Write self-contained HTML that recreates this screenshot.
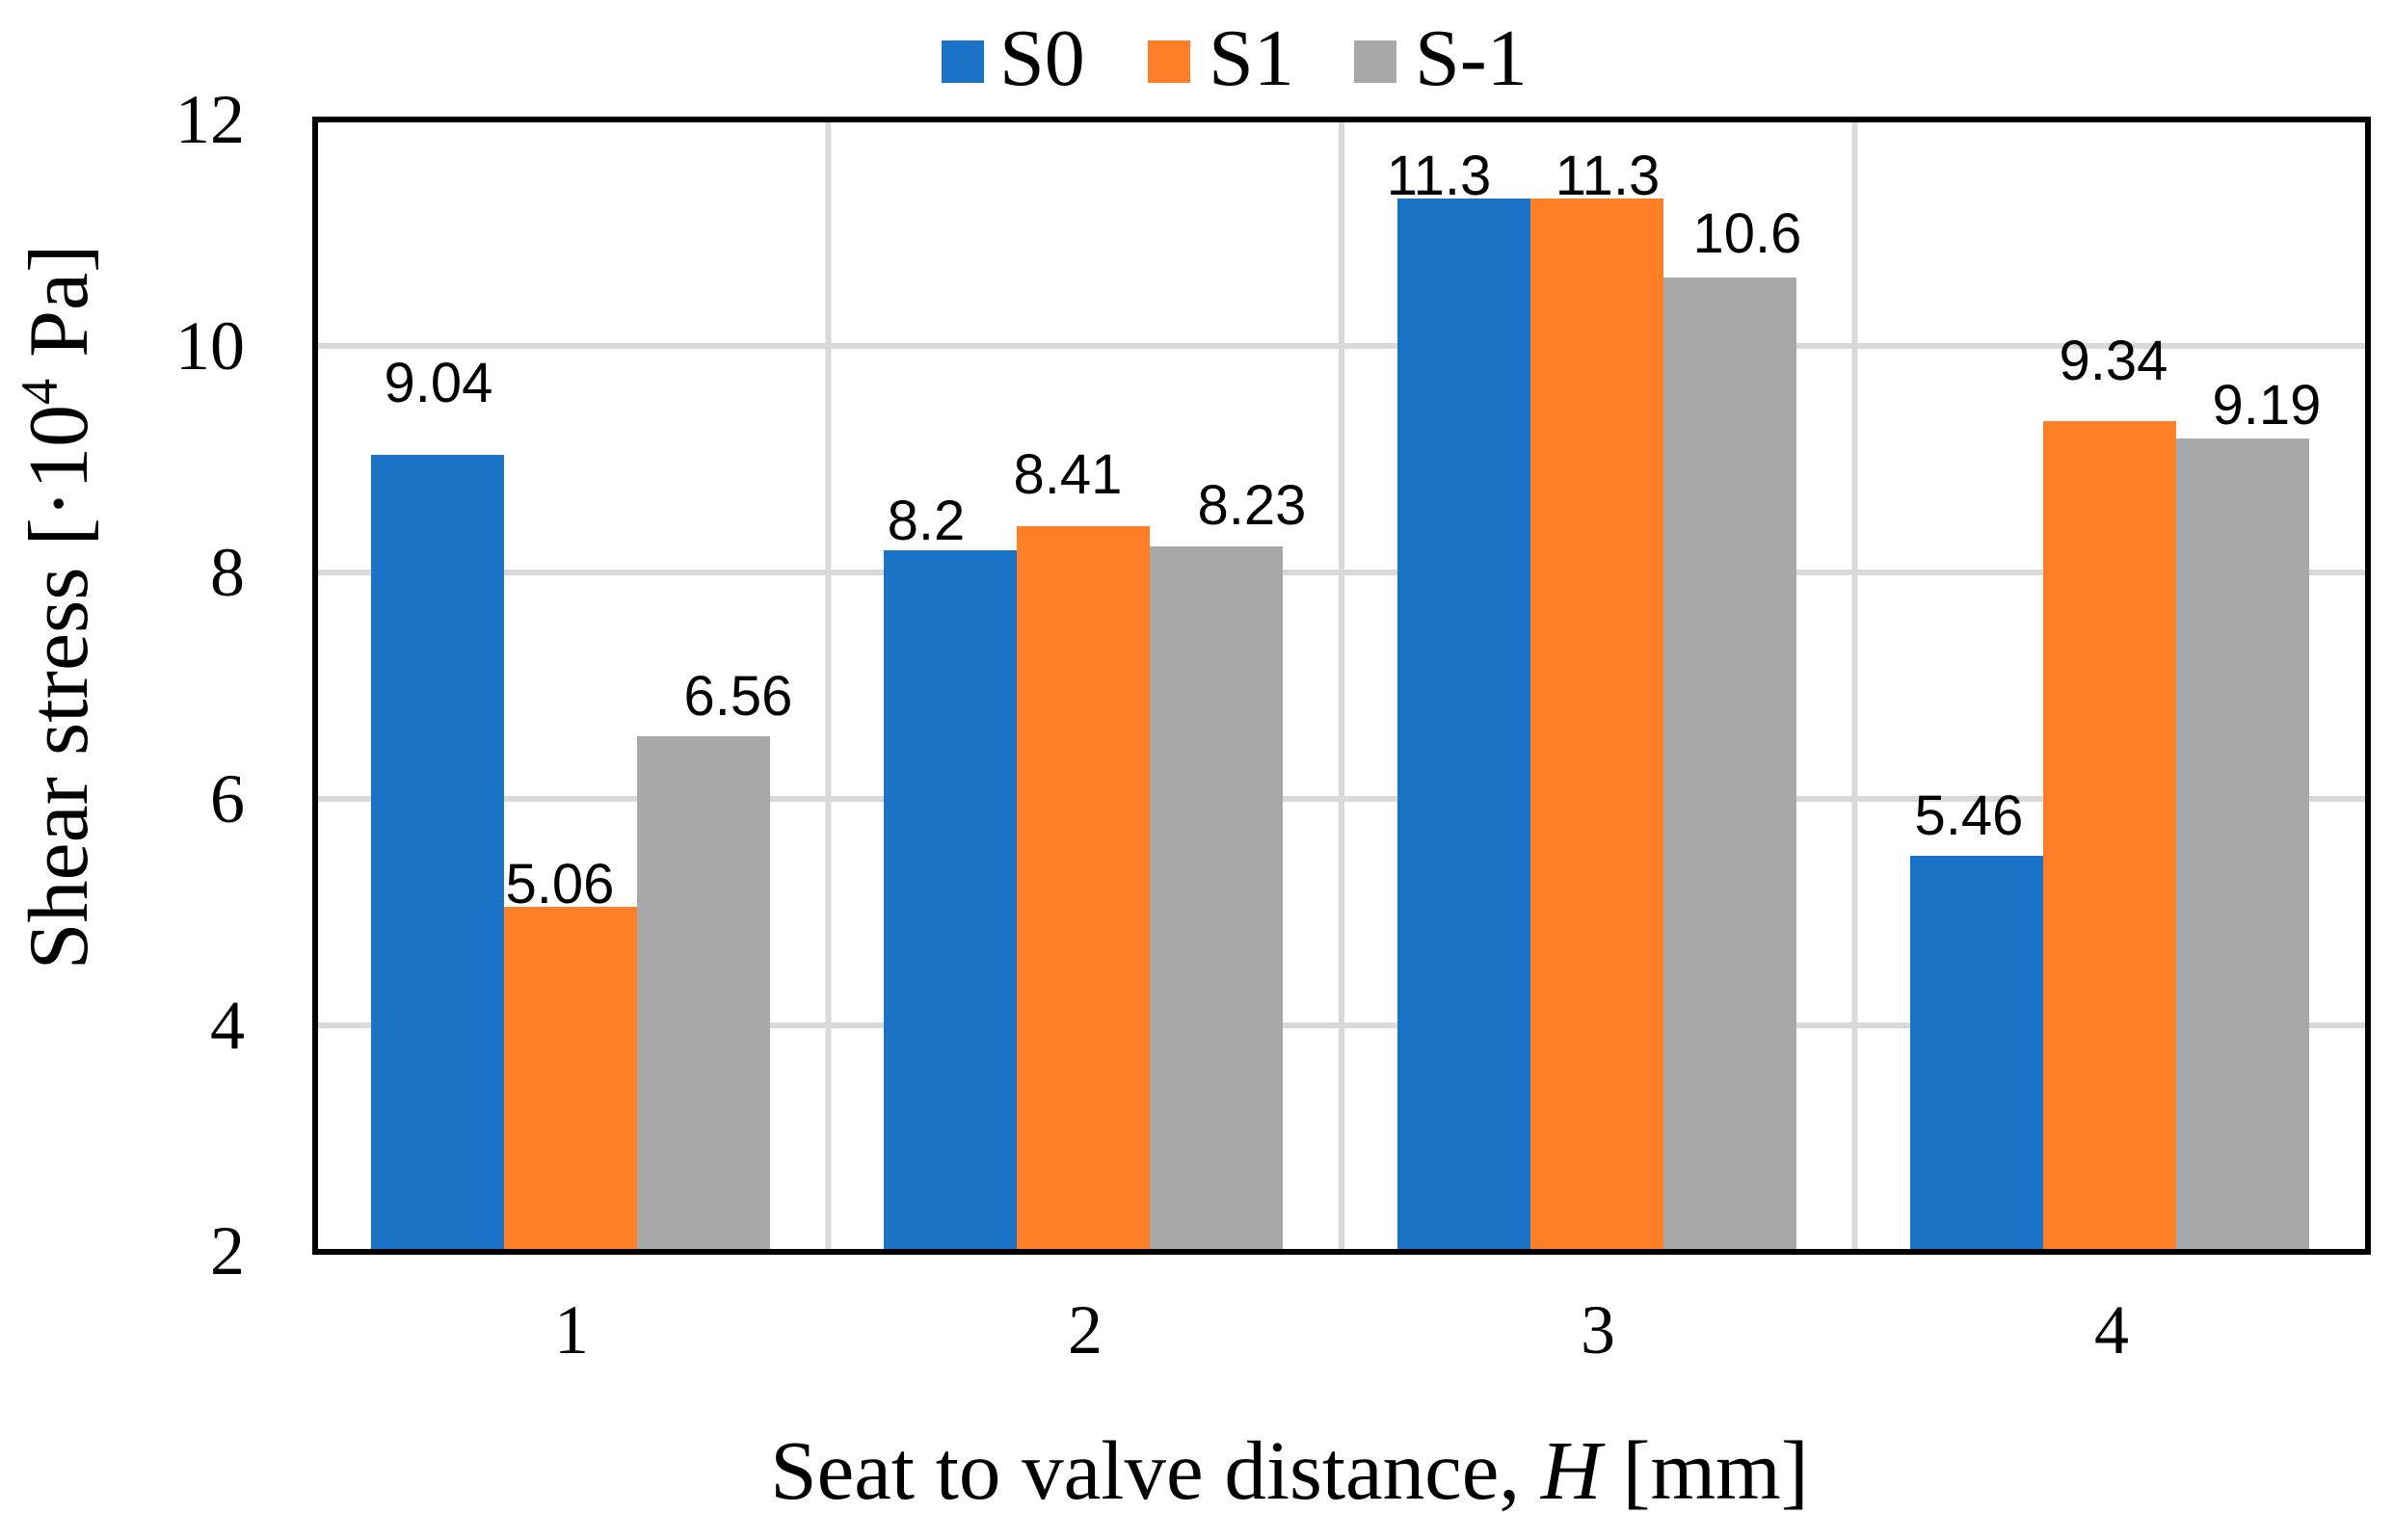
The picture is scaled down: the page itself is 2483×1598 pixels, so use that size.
<!DOCTYPE html>
<html><head><meta charset="utf-8"><style>
html,body{margin:0;padding:0;background:#fff;}
svg{display:block;}
.t{font-family:"Liberation Serif",serif;fill:#000;}
.d{font-family:"Liberation Sans",sans-serif;fill:#000;font-size:58px;text-anchor:middle;}
</style></head><body>
<svg width="2483" height="1598" viewBox="0 0 2483 1598" xmlns="http://www.w3.org/2000/svg">
<rect width="2483" height="1598" fill="#fff"/>
<g stroke="#d9d9d9" stroke-width="6">
<line x1="327" y1="359" x2="2457" y2="359"/>
<line x1="327" y1="594" x2="2457" y2="594"/>
<line x1="327" y1="829" x2="2457" y2="829"/>
<line x1="327" y1="1064" x2="2457" y2="1064"/>
<line x1="859.5" y1="124" x2="859.5" y2="1299"/>
<line x1="1392" y1="124" x2="1392" y2="1299"/>
<line x1="1924.5" y1="124" x2="1924.5" y2="1299"/>
</g>
<g>
<rect x="385" y="472" width="138" height="827" fill="#1a73c7"/>
<rect x="523" y="941" width="138" height="358" fill="#fe7f27"/>
<rect x="661" y="764" width="138" height="535" fill="#a8a8a8"/>
<rect x="917" y="571" width="138" height="728" fill="#1a73c7"/>
<rect x="1055" y="546" width="138" height="753" fill="#fe7f27"/>
<rect x="1193" y="567" width="138" height="732" fill="#a8a8a8"/>
<rect x="1450" y="206" width="138" height="1093" fill="#1a73c7"/>
<rect x="1588" y="206" width="138" height="1093" fill="#fe7f27"/>
<rect x="1726" y="288" width="138" height="1011" fill="#a8a8a8"/>
<rect x="1982" y="888" width="138" height="411" fill="#1a73c7"/>
<rect x="2120" y="437" width="138" height="862" fill="#fe7f27"/>
<rect x="2258" y="455" width="138" height="844" fill="#a8a8a8"/>
</g>
<rect x="327" y="124" width="2130" height="1175" fill="none" stroke="#000" stroke-width="6"/>
<g class="d">
<text x="455" y="417">9.04</text>
<text x="581" y="937">5.06</text>
<text x="766" y="742">6.56</text>
<text x="961" y="560">8.2</text>
<text x="1108" y="512">8.41</text>
<text x="1299" y="544">8.23</text>
<text x="1493" y="202">11.3</text>
<text x="1668" y="202">11.3</text>
<text x="1813" y="262">10.6</text>
<text x="2043" y="866">5.46</text>
<text x="2193" y="394">9.34</text>
<text x="2352" y="440">9.19</text>
</g>
<g class="t" font-size="72" text-anchor="end">
<text x="254" y="148">12</text>
<text x="254" y="383">10</text>
<text x="254" y="618">8</text>
<text x="254" y="853">6</text>
<text x="254" y="1088">4</text>
<text x="254" y="1322">2</text>
</g>
<g class="t" font-size="72" text-anchor="middle">
<text x="593" y="1404">1</text>
<text x="1126" y="1404">2</text>
<text x="1658" y="1404">3</text>
<text x="2191" y="1404">4</text>
</g>
<text class="t" font-size="87" x="1338" y="1555" text-anchor="middle">Seat to valve distance, <tspan font-style="italic">H</tspan> [mm]</text>
<text class="t" font-size="88" text-anchor="middle" transform="translate(90,630) rotate(-90)">Shear stress [·10<tspan font-size="54" dy="-31">4</tspan><tspan dy="31"> Pa]</tspan></text>
<rect x="977" y="42" width="44" height="44" fill="#1a73c7"/>
<text class="t" font-size="84" x="1037" y="88">S0</text>
<rect x="1191" y="42" width="44" height="44" fill="#fe7f27"/>
<text class="t" font-size="84" x="1254" y="88">S1</text>
<rect x="1405" y="42" width="44" height="44" fill="#a8a8a8"/>
<text class="t" font-size="84" x="1468" y="88">S-1</text>
</svg>
</body></html>
